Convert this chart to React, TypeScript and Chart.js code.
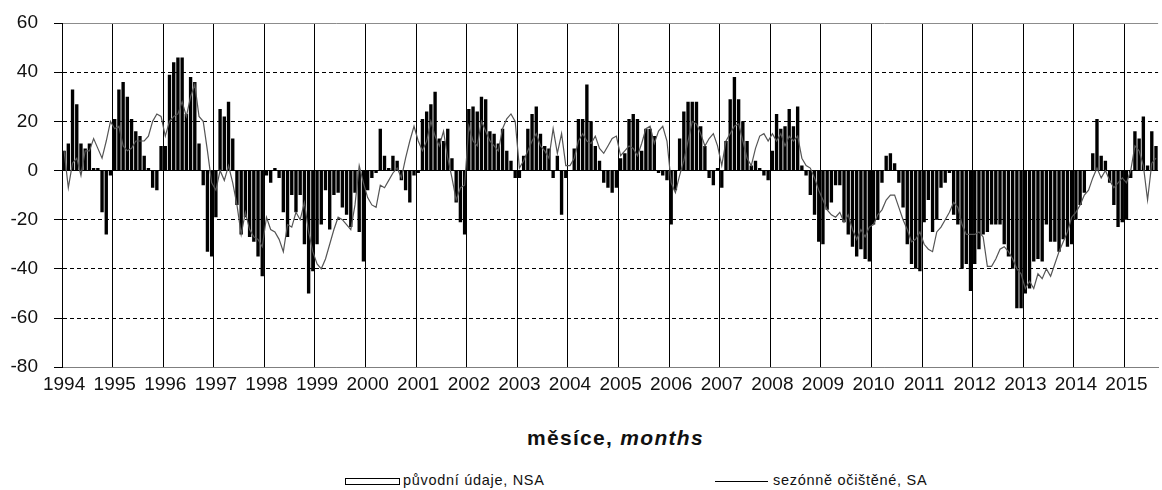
import React, { useEffect, useRef } from 'react';
import Chart from 'chart.js/auto';

// years on the x axis; the last year has only 8 months of data
const years = [1994, 1995, 1996, 1997, 1998, 1999, 2000, 2001, 2002, 2003, 2004,
  2005, 2006, 2007, 2008, 2009, 2010, 2011, 2012, 2013, 2014, 2015];
const monthsInLastYear = 8;

// původní údaje, NSA
const nsa = [
  8, 11, 33, 27, 11, 9, 11, 1, 1, -17, -26, -2, // 1994
  21, 33, 36, 30, 21, 16, 14, 6, 1, -7, -8, 10, // 1995
  10, 39, 44, 46, 46, 23, 38, 36, 11, -6, -33, -35, // 1996
  -19, 25, 22, 28, 13, -14, -26, -19, -27, -29, -35, -43, // 1997
  -2, -5, 1, -3, -17, -27, -10, -17, -10, -30, -50, -41, // 1998
  -30, -22, -8, -24, -10, -9, -15, -18, -23, -9, -25, -37, // 1999
  -8, -3, -1, 17, 6, 1, 6, 4, -4, -8, -13, -2, // 2000
  -1, 21, 24, 27, 32, 13, 12, 17, 5, -13, -21, -26, // 2001
  25, 26, 24, 30, 29, 16, 15, 11, 17, 8, 4, -3, // 2002
  -3, 6, 17, 23, 26, 15, 10, 9, -3, 6, -18, -3, // 2003
  0, 9, 21, 21, 35, 20, 10, 4, -5, -7, -9, -7, // 2004
  5, 7, 21, 23, 21, 8, 17, 17, 14, -1, -2, -4, // 2005
  -22, -8, 13, 24, 28, 28, 28, 18, 10, -3, -6, 1, // 2006
  -7, 12, 29, 38, 29, 20, 12, 2, 4, 1, -2, -4, // 2007
  8, 23, 17, 18, 25, 18, 26, 2, -2, -10, -18, -29, // 2008
  -30, -16, -13, -6, -6, -21, -26, -31, -35, -32, -36, -37, // 2009
  -22, -20, -5, 6, 7, 3, -5, -15, -30, -38, -40, -41, // 2010
  -21, -12, -25, -20, -7, -5, -1, -18, -22, -40, -38, -49, // 2011
  -38, -32, -26, -25, -22, -22, -22, -30, -35, -40, -56, -56, // 2012
  -50, -48, -37, -36, -37, -22, -29, -29, -33, -28, -31, -30, // 2013
  -20, -14, -9, 0, 7, 21, 6, 4, -5, -14, -23, -21, // 2014
  -20, -3, 16, 13, 22, 2, 16, 10, // 2015
];

// sezónně očištěné, SA
const sa = [
  8, -7, 3, 5, -2, 8, 8, 13, 9, 5, 12, 20, // 1994
  17, 18, 10, 8, 9, 12, 12, 12, 14, 20, 23, 22, // 1995
  14, 20, 22, 23, 28, 22, 30, 35, 22, 20, 8, -5, // 1996
  -8, 0, -4, 2, -5, -14, -26, -17, -24, -27, -28, -31, // 1997
  -19, -24, -25, -28, -33, -22, -23, -17, -20, -13, -25, -33, // 1998
  -38, -40, -36, -30, -24, -19, -20, -22, -24, -14, 2, -5, // 1999
  -11, -14, -15, -6, -7, -4, -1, 1, -3, 5, 12, 18, // 2000
  12, 8, 12, 20, 14, 10, 16, 5, -3, -12, -7, -6, // 2001
  18, 12, 10, 20, 16, 12, 10, 8, 17, 21, 23, 20, // 2002
  1, 4, 8, 12, 15, 10, 8, 5, 17, 7, 15, 2, // 2003
  2, 5, 12, 15, 12, 11, 14, 9, 7, 10, 13, 14, // 2004
  6, 8, 10, 9, 6, 11, 17, 18, 11, 16, 18, 12, // 2005
  -5, -9, -2, 4, 12, 20, 19, 15, 10, 13, 15, 10, // 2006
  2, 12, 15, 18, 19, 12, 5, 2, 9, 14, 15, 12, // 2007
  15, 12, 15, 10, 14, 12, 14, 5, 2, 1, -3, -8, // 2008
  -12, -16, -18, -19, -17, -21, -18, -24, -28, -24, -27, -23, // 2009
  -22, -18, -16, -12, -10, -10, -15, -20, -24, -29, -28, -25, // 2010
  -30, -32, -33, -25, -23, -20, -17, -13, -15, -22, -26, -26, // 2011
  -26, -25, -27, -39, -39, -36, -32, -31, -33, -36, -40, -42, // 2012
  -48, -45, -48, -42, -44, -40, -43, -38, -33, -29, -25, -19, // 2013
  -17, -14, -10, -8, -3, 1, -3, 0, -4, -7, -5, -3, // 2014
  -5, 0, 10, 8, 2, -12, 3, 5, // 2015
];

const labels: string[] = [];
years.forEach((y, i) => {
  const n = i === years.length - 1 ? monthsInLastYear : 12;
  for (let m = 1; m <= n; m++) labels.push(`${y}-${m}`);
});

const FONT = '"Liberation Sans", Arial, sans-serif';

const App: React.FC = () => {
  const canvasRef = useRef<HTMLCanvasElement>(null);
  const chartRef = useRef<Chart | null>(null);

  useEffect(() => {
    document.body.style.margin = '0';
    const ctx = canvasRef.current?.getContext('2d');
    if (!ctx) return;

    chartRef.current = new Chart(ctx, {
      type: 'bar',
      data: {
        labels,
        datasets: [
          {
            type: 'line',
            label: 'sezónně očištěné, SA',
            data: sa,
            borderColor: '#555555',
            borderWidth: 1.2,
            pointRadius: 0,
            tension: 0,
            order: 1,
          },
          {
            type: 'bar',
            label: 'původní údaje, NSA',
            data: nsa,
            backgroundColor: '#000000',
            borderWidth: 0,
            barPercentage: 0.8,
            categoryPercentage: 1,
            order: 2,
          },
        ],
      },
      options: {
        animation: false,
        responsive: true,
        maintainAspectRatio: false,
        layout: { padding: { top: 23, right: 0, bottom: 0, left: 0 } },
        plugins: {
          legend: { display: false },
          tooltip: { enabled: false },
        },
        scales: {
          x: {
            offset: true,
            grid: {
              offset: true,
              drawTicks: false,
              lineWidth: 1,
              color: (c: any) => (c.index % 12 === 0 ? '#000000' : 'transparent'),
            },
            border: { color: '#7f7f7f', width: 1 },
            ticks: {
              autoSkip: false,
              maxRotation: 0,
              minRotation: 0,
              padding: 6,
              color: '#111111',
              font: { family: FONT, size: 19 },
              callback: (_v: any, i: number) => (i % 12 === 0 ? String(years[i / 12]) : ''),
            },
          },
          y: {
            min: -80,
            max: 60,
            ticks: {
              stepSize: 20,
              padding: 16,
              color: '#111111',
              font: { family: FONT, size: 19 },
            },
            grid: {
              lineWidth: 1,
              tickLength: 8,
              tickColor: '#000000',
              color: (c: any) => (c.tick && (c.tick.value === 60 || c.tick.value === -80) ? '#8c8c8c' : '#000000'),
            },
            border: {
              color: '#000000',
              width: 1,
              dash: (c: any) =>
                c.tick && c.tick.value !== 0 && c.tick.value !== 60 && c.tick.value !== -80 ? [4, 3] : [],
            },
            afterFit: (scale: any) => {
              scale.width = 62;
              scale.paddingTop = 12;
              scale.paddingBottom = 12;
            },
          },
        },
      },
    } as any);

    return () => {
      if (chartRef.current) {
        chartRef.current.destroy();
        chartRef.current = null;
      }
    };
  }, []);

  return (
    <div style={{ position: 'relative', width: 1162, height: 490, fontFamily: FONT, color: '#111' }}>
      <div style={{ position: 'absolute', left: 0, top: 0, width: 1162, height: 402 }}>
        <canvas ref={canvasRef} />
      </div>
      <div style={{ position: 'absolute', left: 527, top: 426, fontSize: 21, lineHeight: '24px', fontWeight: 'bold', letterSpacing: 1.3, whiteSpace: 'nowrap' }}>
        měsíce, <i>months</i>
      </div>
      <div style={{ position: 'absolute', left: 345, top: 478, width: 55, height: 7, boxSizing: 'border-box', border: '1px solid #000', background: '#fff' }} />
      <div style={{ position: 'absolute', left: 403, top: 472, fontSize: 14.5, lineHeight: '16px', letterSpacing: 0.7, whiteSpace: 'nowrap' }}>
        původní údaje, NSA
      </div>
      <div style={{ position: 'absolute', left: 715, top: 481, width: 53, height: 1, background: '#000' }} />
      <div style={{ position: 'absolute', left: 773, top: 472, fontSize: 14.5, lineHeight: '16px', letterSpacing: 0.7, whiteSpace: 'nowrap' }}>
        sezónně očištěné, SA
      </div>
    </div>
  );
};

export default App;
